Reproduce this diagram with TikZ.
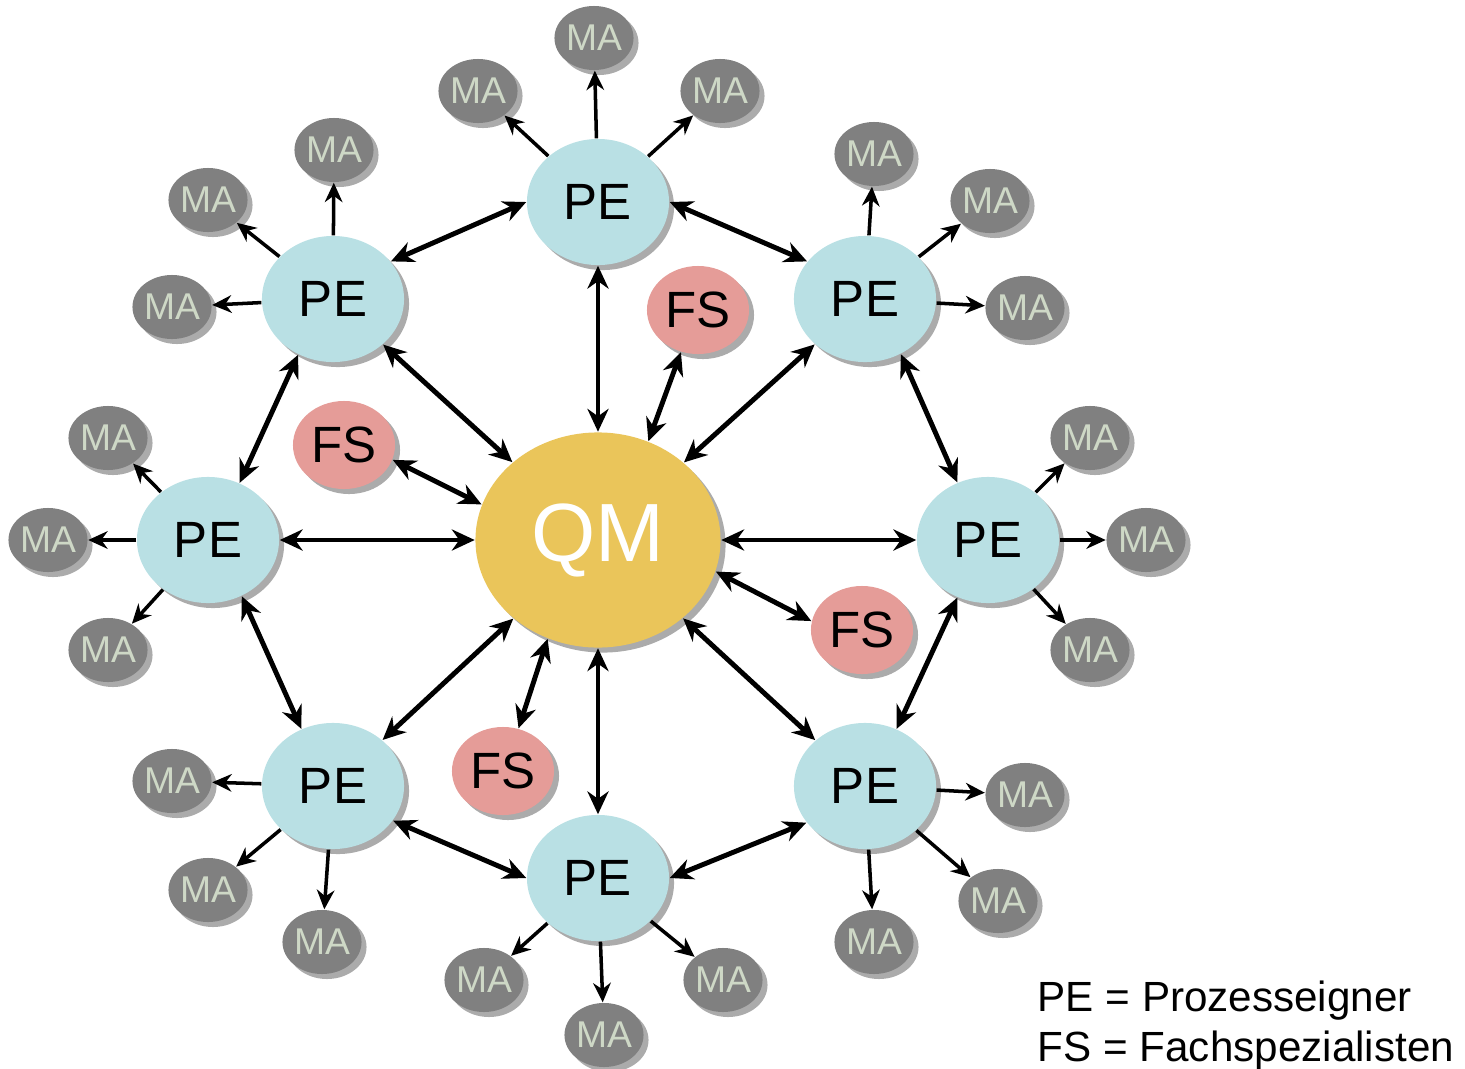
\documentclass[tikz,border=0pt]{standalone}
\usepackage{fontspec}
\setmainfont{Liberation Sans}
\usetikzlibrary{arrows.meta,shadows,shapes.geometric}
\definecolor{pefill}{HTML}{B9E0E4}
\definecolor{qmfill}{HTML}{EAC55A}
\definecolor{fsfill}{HTML}{E59C98}
\definecolor{mafill}{HTML}{808080}
\definecolor{matext}{HTML}{CED8C6}
\definecolor{shadowgray}{HTML}{ABABAB}
\begin{document}
\begin{tikzpicture}[x=0.01cm,y=-0.01cm,
  blob/.style={ellipse, inner sep=0pt, drop shadow={shadow xshift=0.05cm, shadow yshift=-0.05cm, fill=shadowgray, opacity=1}},
  pe/.style={blob, fill=pefill, minimum width=1.42cm, minimum height=1.26cm, font=\fontsize{14.5}{16}\selectfont},
  qm/.style={blob, fill=qmfill, minimum width=2.45cm, minimum height=2.15cm, text=white, font=\fontsize{23.5}{26}\selectfont},
  fs/.style={blob, fill=fsfill, minimum width=1.02cm, minimum height=0.88cm, font=\fontsize{14.5}{16}\selectfont},
  ma/.style={blob, fill=mafill, minimum width=0.74cm, minimum height=0.64cm, text=matext, font=\fontsize{10.6}{12}\selectfont},
  big/.style={line width=1.4pt, {Stealth[length=6.5pt,width=6pt]}-{Stealth[length=6.5pt,width=6pt]}},
  small/.style={line width=1pt, -{Stealth[length=5.5pt,width=5pt]}},
  legend/.style={anchor=base west, inner sep=0pt, font=\fontsize{12}{14}\selectfont}]
\useasboundingbox (0,0) rectangle (1465,1069);

% central node
\node[qm] (qm) at (598,540) {QM};

% process owners
\node[pe] (pt)  at (598,202) {PE};
\node[pe] (ptl) at (333,299) {PE};
\node[pe] (ptr) at (865,299) {PE};
\node[pe] (pl)  at (208,540) {PE};
\node[pe] (pr)  at (988,540) {PE};
\node[pe] (pbl) at (333,786) {PE};
\node[pe] (pbr) at (865,786) {PE};
\node[pe] (pb)  at (598,878) {PE};

% specialists
\node[fs] (fs1) at (698,310) {FS};
\node[fs] (fs2) at (344,445) {FS};
\node[fs] (fs3) at (862,630) {FS};
\node[fs] (fs4) at (503,771) {FS};

% employees
\foreach \p/\n/\x/\y in {
  pt/ma1/594/38, pt/ma2/478/91, pt/ma3/720/91,
  ptl/ma4/334/150, ptl/ma5/208/200, ptl/ma6/172/307,
  ptr/ma7/874/154, ptr/ma8/990/201, ptr/ma9/1025/308,
  pl/ma10/108/438, pl/ma11/48/540, pl/ma12/108/650,
  pr/ma13/1090/438, pr/ma14/1146/540, pr/ma15/1090/650,
  pbl/ma16/172/781, pbl/ma17/208/890, pbl/ma18/322/942,
  pbr/ma19/1025/795, pbr/ma20/998/901, pbr/ma21/874/942,
  pb/ma22/484/980, pb/ma23/723/980, pb/ma24/604/1035}
{
  \node[ma] (\n) at (\x,\y) {MA};
  \draw[small] (\p) -- (\n);
}

% QM to PE
\draw[big] (qm) -- (pt);
\draw[big] (qm) -- (pl);
\draw[big] (qm) -- (pr);
\draw[big] (qm) -- (pb);
\draw[big] (qm) -- (ptl);
\draw[big] (qm) -- (ptr);
\draw[big] (qm) -- (pbl);
\draw[big] (qm) -- (pbr);

% QM to FS
\draw[big] (qm.63) -- (fs1.248);
\draw[big] (qm.163) -- (fs2.-17);
\draw[big] (qm.-15) -- (fs3.170);
\draw[big] (qm.243) -- (fs4.70);

% ring of PE
\draw[big] (pt.180) -- (ptl.33);
\draw[big] (pt.0) -- (ptr.147);
\draw[big] (ptl.238) -- (pl.61);
\draw[big] (ptr.303) -- (pr.118);
\draw[big] (pl.301) -- (pbl.119);
\draw[big] (pr.242) -- (pbr.61);
\draw[big] (pbl.330) -- (pb.180);
\draw[big] (pbr.212) -- (pb.0);

% legend
\node[legend] (leg1) at (1037,1011) {PE = Prozesseigner};
\node[legend] (leg2) at (1037,1061) {FS = Fachspezialisten};
\end{tikzpicture}
\end{document}
